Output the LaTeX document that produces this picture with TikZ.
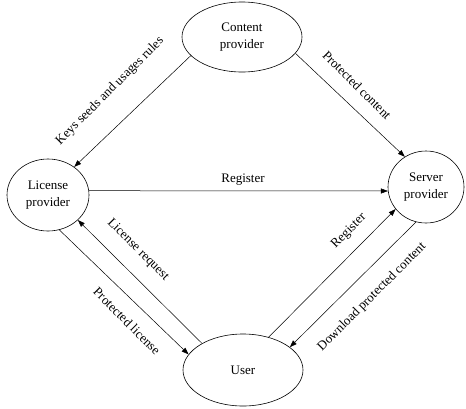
\documentclass[tikz,border=0pt]{standalone}
\usepackage{fontspec}
\setmainfont{Liberation Serif}
\usetikzlibrary{shapes.geometric,arrows.meta}
\begin{document}
\begin{tikzpicture}[x=1pt,y=-1pt,
  font=\fontsize{13}{17}\selectfont,
  entity/.style={ellipse,draw,line width=0.6pt,inner sep=0pt,align=center},
  flow/.style={line width=0.5pt,-{Triangle[length=7pt,width=5pt]}},
  lbl/.style={inner sep=0pt}]
\useasboundingbox (0,0) rectangle (466,408);
\node[entity,minimum width=120pt,minimum height=70pt] (cp) at (242,37) {Content\\provider};
\node[entity,minimum width=82pt,minimum height=72pt] (lp) at (48,195) {License\\provider};
\node[entity,minimum width=76pt,minimum height=72pt] (sp) at (426,187) {Server\\provider};
\node[entity,minimum width=120pt,minimum height=72pt] (us) at (243,370) {User};

\draw[flow] (cp.200) -- (lp.47);
\draw[flow] (cp.343) -- (sp.125);
\draw[flow] (lp.6) -- (sp.186);
\draw[flow] (lp.288) -- (us.164);
\draw[flow] (us.147) -- (lp.320);
\draw[flow] (us.52) -- (sp.216);
\draw[flow] (sp.254) -- (us.26);

\node[lbl,rotate=45] (l1) at (110,91) {Keys seeds and usages rules};
\node[lbl,rotate=-45] (l2) at (357,85) {Protected content};
\node[lbl] (l3) at (243,180) {Register};
\node[lbl,rotate=-45] (l4) at (127,321) {Protected license};
\node[lbl,rotate=-45] (l5) at (138,250) {License request};
\node[lbl,rotate=45] (l6) at (349,231) {Register};
\node[lbl,rotate=45] (l7) at (372,297) {Download protected content};
\end{tikzpicture}
\end{document}
